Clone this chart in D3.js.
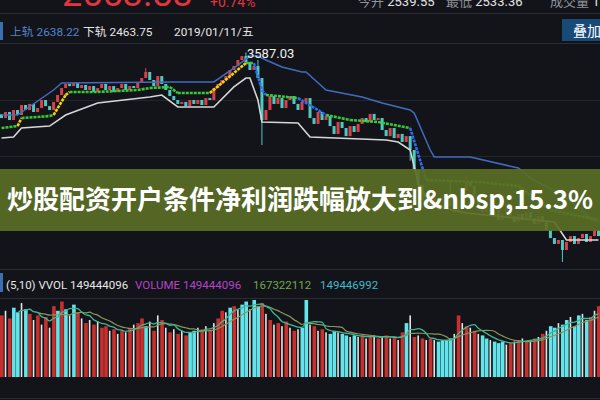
<!DOCTYPE html>
<html><head><meta charset="utf-8">
<script src="https://cdn.jsdelivr.net/npm/d3@7"></script>
<style>html,body{margin:0;padding:0;background:#131419;}svg{display:block}</style>
</head><body><svg id="c" width="600" height="400"></svg>
<script>
// ---- data ----
const firstOpen = 3240;
const closes = [
3219,3253,3208,3264,3236,3292,3264,3298,3253,3275,
3320,3286,3264,3309,3348,3387,3410,3398,3415,3387,
3404,3376,3398,3365,3387,3410,3376,3398,3365,3387,
3410,3376,3398,3387,3421,3443,3477,3432,3398,3454,
3410,3376,3342,3320,3298,3309,3286,3320,3298,3320,
3292,3331,3320,3387,3410,3432,3454,3488,3510,3544,
3566,3533,3488,3510,3443,3208,3264,3342,3298,3331,
3275,3320,3342,3298,3264,3309,3331,3219,3186,3253,
3208,3230,3174,3130,3197,3163,3118,3174,3141,3186,
3219,3197,3242,3208,3219,3152,3118,3163,3107,3130,
3085,3118,3040,2928,2844,2760,2788,2732,2771,2704,
2738,2782,2726,2693,2760,2816,2861,2838,2782,2732,
2693,2715,2670,2704,2648,2682,2715,2670,2637,2682,
2648,2693,2659,2626,2670,2637,2592,2547,2514,2536,
2480,2525,2558,2514,2547,2570,2525,2558,2592,2558];
// notable wicks: [index, high, low]
const spikes = [[36,3499,null],[61,3587.03,null],[64,3544,null],[65,null,3068],[102,null,2980],[112,2870,null],[116,2900,null],[140,null,2413]];

const upperIdx = [0,4,13,15,42,53,58,62,64,66,70,75,76,81,90,95,102,103,107,108,117,129,132,140,147,149];
const upperVals = [3236,3236,3376,3415,3421,3421,3499,3566,3566,3544,3505,3477,3477,3376,3337,3303,3264,3247,3040,3001,3001,2939,2883,2788,2659,2637];
const midIdx = [0,4,5,12,13,16,17,24,34,37,42,44,52,61,63,65,66,74,81,87,94,102,106,119,129,137,149];
const midVals = [3163,3174,3219,3230,3236,3348,3365,3365,3376,3387,3393,3359,3359,3527,3527,3376,3348,3331,3236,3208,3197,3163,2872,2861,2838,2704,2648];
const midColors = "gyggyyggggggygbbgbgggbgggg";
const lowerIdx = [0,3,5,12,16,24,37,40,44,53,58,61,62,64,65,74,77,96,99,102,104,107,116,138,141,149];
const lowerVals = [3107,3113,3163,3174,3236,3303,3337,3348,3281,3281,3393,3443,3443,3320,3197,3191,3113,3096,3085,3040,2855,2732,2687,2637,2536,2536];

// volume in millions
const vols = [200,215,190,225,210,240,220,205, 185,200,170,195,160,230,215, 245,220,200,235,210, 190,175,185,170,180,160,
165,150,155,140,150,145,160, 170,175,190,165,180,150,200,185, 160,145,155,140,150,135,145,150,160,
155,165,150,175,190,215,210,225,230,220, 235,245,220,250,230, 240,205,185,170,175,165,180,160,150,155,
160,250,170,165,150,155,145,140,150,145, 140,135,130,135,130,135,125,130,135,125,130,135,125,130,120,
145,175,200,130,135,125,120,125,120,115,120,120,125, 140,200,175,165,160,150,140,135,
125,120,115,110,115,105,110,115,120,125,115,120,125,130, 140,150,165,160,175,170,185,195,165,200,205,185,195,215,230];
const volColors = "rwrccwcrwr"+"wrwrcrcwcr"+"wrwrwrrwrw"+"rwrwrrcwrw"+"rwrwrwrccw"+"rwrwrrwcrw"+"ccwccrwrwr"+"wrwrwccwrw"+"rwccwccwcw"+"rwrwrwrwrw"+"rcwrwrwrwc"+"cccwrwrwrw"+"ccwcccwrwr"+"wrwrwrwccw"+"ccwccwcrwr";

const headerNums = {big:"2553.83", pct:"+0.74%", open:"2539.55", low:"2533.36"};
const bandLabels = {upper:"2638.22", lower:"2463.75", date:"2019/01/11/五", peak:"3587.03"};
const volLabels = ["149444096","149444096","167322112","149446992"];
const title = "炒股配资开户条件净利润跌幅放大到&nbsp;15.3%";

// ---- drawing ----
const svg = d3.select("#c");
const W = 600;
const N = closes.length;
const opens = closes.map((c,i)=> i===0 ? firstOpen : closes[i-1]);
const font = "Roboto, 'Noto Sans CJK SC', sans-serif";

svg.append("rect").attr("width",600).attr("height",400).attr("fill","#131419");

const x = d3.scaleBand().domain(d3.range(N)).range([0,W]).paddingInner(0.25);
const xc = i => x(i) + x.bandwidth()/2;
const y = d3.scaleLinear().domain([2400,3600]).range([264.3,50]);
const yv = d3.scaleLinear().domain([0,250]).range([377,300]);

// dividers / grid
[13,43,269,298,398].forEach(v=>svg.append("line").attr("x1",0).attr("x2",W).attr("y1",v+0.5).attr("y2",v+0.5).attr("stroke","#2a2d35").attr("stroke-width",1));
[100,156].forEach(v=>svg.append("line").attr("x1",0).attr("x2",W).attr("y1",v+0.5).attr("y2",v+0.5).attr("stroke","#22252c").attr("stroke-width",1));

// header texts (cut off at the top, as in the screenshot)
svg.append("text").attr("x",62).attr("y",6).attr("font-family",font).attr("font-size",36).attr("fill","#e2353f").text(headerNums.big);
svg.append("text").attr("x",210).attr("y",7).attr("font-family",font).attr("font-size",14).attr("fill","#e2353f").text(headerNums.pct);
const hdr = svg.append("text").attr("y",6).attr("font-family",font).attr("font-size",13);
hdr.append("tspan").attr("x",358).attr("fill","#8e939b").text("今开 ");
hdr.append("tspan").attr("fill","#e4e4e4").text(headerNums.open);
hdr.append("tspan").attr("x",446).attr("fill","#8e939b").text("最低 ");
hdr.append("tspan").attr("fill","#e4e4e4").text(headerNums.low);
hdr.append("tspan").attr("x",550).attr("fill","#8e939b").text("成交量 ");
hdr.append("tspan").attr("fill","#e4e4e4").text("1.");

// row 2
svg.append("rect").attr("x",0).attr("y",22).attr("width",3).attr("height",18).attr("fill","#3a6fb0");
svg.append("text").attr("x",10).attr("y",36).attr("font-family",font).attr("font-size",11.8).attr("fill","#4f84cc").text("上轨 "+bandLabels.upper);
svg.append("text").attr("x",83).attr("y",36).attr("font-family",font).attr("font-size",11.8).attr("fill","#e6e6e6").text("下轨 "+bandLabels.lower);
svg.append("text").attr("x",174).attr("y",36).attr("font-family",font).attr("font-size",11.8).attr("fill","#e6e6e6").text(bandLabels.date);
svg.append("rect").attr("x",562).attr("y",19).attr("width",38).attr("height",22).attr("fill","#184a78");
svg.append("text").attr("x",573).attr("y",36).attr("font-family",font).attr("font-size",14).attr("fill","#ffffff").text("叠加");

// price chart
svg.append("clipPath").attr("id","pc").append("rect").attr("x",0).attr("y",44).attr("width",W).attr("height",224);
const pg = svg.append("g").attr("clip-path","url(#pc)");
const hiOf = i => { const s = spikes.find(d=>d[0]===i); return s && s[1]!=null ? s[1] : Math.max(opens[i],closes[i]); };
const loOf = i => { const s = spikes.find(d=>d[0]===i); return s && s[2]!=null ? s[2] : Math.min(opens[i],closes[i]); };
const up = i => closes[i] >= opens[i];
const cg = pg.selectAll("g.c").data(d3.range(N)).join("g");
cg.append("line").attr("x1",i=>xc(i)).attr("x2",i=>xc(i)).attr("y1",i=>y(hiOf(i))).attr("y2",i=>y(loOf(i)))
  .attr("stroke",i=>up(i)?"#d8404a":"#4fc9c0").attr("stroke-width",1);
cg.append("rect").attr("x",i=>x(i)).attr("width",x.bandwidth())
  .attr("y",i=>y(Math.max(opens[i],closes[i]))).attr("height",i=>Math.max(1,Math.abs(y(opens[i])-y(closes[i]))))
  .attr("fill",i=>up(i)?"#d8404a":"#4fc9c0");

const ln = d3.line().x(d=>xc(d[0])).y(d=>y(d[1]));
pg.append("path").attr("d",ln(upperIdx.map((v,k)=>[v,upperVals[k]]))).attr("fill","none").attr("stroke","#3f6cc0").attr("stroke-width",1.5);
pg.append("path").attr("d",ln(lowerIdx.map((v,k)=>[v,lowerVals[k]]))).attr("fill","none").attr("stroke","#d6d6d6").attr("stroke-width",1.6);
const cmap = {g:"#38c838", y:"#f2d20c", b:"#2f6df2"};
for (let k=0;k<midIdx.length-1;k++){
  pg.append("path").attr("d",ln([[midIdx[k],midVals[k]],[midIdx[k+1],midVals[k+1]]]))
    .attr("fill","none").attr("stroke",cmap[midColors[k]]).attr("stroke-width",2.6).attr("stroke-dasharray","3,1");
}
svg.append("text").attr("x",247).attr("y",58).attr("font-family",font).attr("font-size",13).attr("fill","#f0f0f0").text(bandLabels.peak);

// volume labels
svg.append("rect").attr("x",0).attr("y",273).attr("width",3).attr("height",19).attr("fill","#3a6fb0");
const vfs = 11.5;
svg.append("text").attr("x",6).attr("y",289).attr("font-family",font).attr("font-size",vfs).attr("fill","#e6e6e6").text("(5,10) VVOL "+volLabels[0]);
svg.append("text").attr("x",135).attr("y",289).attr("font-family",font).attr("font-size",vfs).attr("fill","#b444c8").text("VOLUME "+volLabels[1]);
svg.append("text").attr("x",253).attr("y",289).attr("font-family",font).attr("font-size",vfs).attr("fill","#6ea84c").text(volLabels[2]);
svg.append("text").attr("x",320).attr("y",289).attr("font-family",font).attr("font-size",vfs).attr("fill","#40b8c8").text(volLabels[3]);

// volume bars
const vcol = {r:"#c8302e", w:"#e4e4e4", c:"#62e4ea"};
svg.append("g").selectAll("rect").data(vols).join("rect")
  .attr("x",(d,i)=> volColors[i]==="w" ? xc(i)-0.8 : x(i))
  .attr("width",(d,i)=> volColors[i]==="w" ? 1.6 : x.bandwidth()+0.6)
  .attr("y",d=>yv(d)).attr("height",d=>yv(0)-yv(d))
  .attr("fill",(d,i)=>vcol[volColors[i]]);
const ma = n => vols.map((v,i)=> i<n-1 ? null : d3.mean(vols.slice(i-n+1,i+1)));
const vl = d3.line().defined(d=>d!=null).x((d,i)=>xc(i)).y(d=>yv(d)).curve(d3.curveMonotoneX);
svg.append("path").attr("d",vl(ma(10))).attr("fill","none").attr("stroke","#8a9660").attr("stroke-width",1.2);
svg.append("path").attr("d",vl(ma(5))).attr("fill","none").attr("stroke","#3cb894").attr("stroke-width",1.3);

// banner
svg.append("rect").attr("x",0).attr("y",169).attr("width",W).attr("height",62).attr("fill","#5a6e24").attr("opacity",0.92);
svg.append("text").attr("x",300).attr("y",209).attr("text-anchor","middle")
  .attr("font-family","'Noto Sans CJK SC', sans-serif").attr("font-weight","bold").attr("font-size",26)
  .attr("fill","#ffffff").text(title);
</script>
</body></html>
